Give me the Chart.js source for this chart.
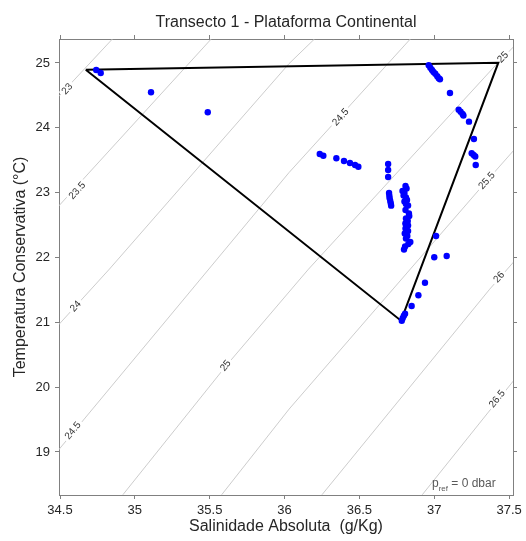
<!DOCTYPE html>
<html>
<head>
<meta charset="utf-8">
<title>Transecto 1 - Plataforma Continental</title>
<script src="https://cdn.jsdelivr.net/npm/chart.js@4"></script>
<style>
  html, body { margin: 0; padding: 0; background: #fff; }
  #wrap { width: 526px; height: 541px; }
</style>
</head>
<body>
<div id="wrap"><canvas id="tsChart" width="526" height="541"></canvas></div>
<script>
// marcas dos eixos
const xTicks = [34.5, 35, 35.5, 36, 36.5, 37, 37.5];
const yTicks = [19, 20, 21, 22, 23, 24, 25];

// estações: salinidade absoluta (g/Kg) e temperatura conservativa (°C)
const stationS = [
    34.742, 34.772, 35.108, 35.487,
    36.963, 36.974, 36.985, 36.995, 37.007, 37.020, 37.030, 37.038,
    37.105, 37.163, 37.176, 37.189, 37.195, 37.232, 37.265,
    37.250, 37.263, 37.274, 37.277,
    36.235, 36.259, 36.346, 36.397, 36.437, 36.471, 36.493,
    36.692, 36.692, 36.692,
    36.698, 36.700, 36.702, 36.706, 36.710, 36.712,
    36.808, 36.815, 36.788, 36.801, 36.795, 36.811, 36.818, 36.801, 36.811,
    36.825, 36.808, 36.831, 36.833, 36.811, 36.823, 36.807, 36.825, 36.808,
    36.825, 36.803, 36.820, 36.811, 36.840, 36.827, 36.805, 36.798,
    37.012, 37.000, 37.083, 36.938, 36.894, 36.849,
    36.805, 36.797, 36.789, 36.783
];
const stationT = [
    24.892, 24.846, 24.548, 24.240,
    24.965, 24.926, 24.892, 24.861, 24.833, 24.796, 24.766, 24.749,
    24.537, 24.280, 24.249, 24.213, 24.190, 24.095, 23.828,
    23.609, 23.581, 23.558, 23.427,
    23.596, 23.570, 23.530, 23.488, 23.457, 23.427, 23.400,
    23.442, 23.350, 23.242,
    22.995, 22.953, 22.913, 22.871, 22.833, 22.799,
    23.103, 23.064, 23.026, 22.995, 22.956, 22.925, 22.887, 22.864, 22.825,
    22.802, 22.733, 22.679, 22.640, 22.601, 22.563, 22.524, 22.493, 22.447,
    22.409, 22.370, 22.331, 22.293, 22.239, 22.208, 22.170, 22.123,
    22.332, 22.003, 22.023, 21.611, 21.417, 21.252,
    21.133, 21.101, 21.062, 21.025
];

// triângulo de mistura
const triS = [34.672, 37.428, 36.778, 34.672];
const triT = [24.897, 25.005, 21.025, 24.897];

// isopicnais sigma0 ([SA, CT])
const sig23   = [[34.49, 24.48], [34.85, 25.37]];
const sig23_5 = [[34.49, 22.79], [35.51, 25.37]];
const sig24   = [[34.49, 20.96], [34.83, 21.82], [36.03, 24.99], [36.20, 25.37]];
const sig24_5 = [[34.49, 19.03], [36.03, 23.31], [36.84, 25.37]];
const sig25   = [[34.92, 18.34], [35.61, 20.33], [36.16, 21.82], [37.42, 24.99], [37.53, 25.25]];
const sig25_5 = [[35.58, 18.34], [36.03, 19.66], [37.35, 23.18], [37.53, 23.65]];
const sig26   = [[36.25, 18.34], [37.37, 21.51], [37.53, 21.93]];
const sig26_5 = [[36.92, 18.34], [37.53, 20.10]];

const isoLevels = ['23', '23.5', '24', '24.5', '25', '25.5', '26', '26.5'];
const isoLines = [sig23, sig23_5, sig24, sig24_5, sig25, sig25_5, sig26, sig26_5];

// rótulos das isopicnais (índice da linha e posição)
const labelLevel = [0, 1, 2, 3, 3, 4, 4, 5, 6, 7];
const labelS = [34.549, 34.616, 34.605, 34.587, 36.375, 35.607, 37.459, 37.352, 37.433, 37.421];
const labelT = [24.599, 23.030, 21.247, 19.328, 24.162, 20.331, 25.088, 23.184, 21.694, 19.817];

const AXIS_GRAY = '#808080';
const TEXT_DARK = '#262626';

Chart.defaults.font.family = '"Liberation Sans", Arial, Helvetica, sans-serif';

// rótulos nas isopicnais + texto p_ref
const isoLabels = {
    id: 'isoLabels',
    afterDatasetDraw(chart, args) {
        if (args.index !== 2) return; // depois da última isopicnal desenhada
        const { ctx, chartArea } = chart;
        const x = chart.scales.x, y = chart.scales.y;
        ctx.save();
        ctx.beginPath();
        ctx.rect(chartArea.left, chartArea.top, chartArea.right - chartArea.left, chartArea.bottom - chartArea.top);
        ctx.clip();
        ctx.font = '10px "Liberation Sans", Arial, sans-serif';
        ctx.textAlign = 'center';
        ctx.textBaseline = 'middle';
        labelLevel.forEach((li, i) => {
            const line = isoLines[li];
            const s = labelS[i];
            let k = 0;
            while (k < line.length - 2 && line[k + 1][0] < s) k++;
            const ax = x.getPixelForValue(line[k][0]), ay = y.getPixelForValue(line[k][1]);
            const bx = x.getPixelForValue(line[k + 1][0]), by = y.getPixelForValue(line[k + 1][1]);
            const ang = Math.atan2(by - ay, bx - ax);
            const px = x.getPixelForValue(s), py = y.getPixelForValue(labelT[i]);
            const txt = isoLevels[li];
            const w = ctx.measureText(txt).width;
            ctx.save();
            ctx.translate(px, py);
            ctx.rotate(ang);
            ctx.fillStyle = '#ffffff';
            ctx.fillRect(-w / 2 - 2.5, -4, w + 5, 8);
            ctx.fillStyle = '#333333';
            ctx.fillText(txt, 0, 0);
            ctx.restore();
        });
        ctx.restore();
    },
    afterDraw(chart) {
        const { ctx, chartArea } = chart;
        const bx = chartArea.right - 81;
        const by = chartArea.bottom - 8;
        ctx.save();
        ctx.fillStyle = '#595959';
        ctx.textAlign = 'left';
        ctx.textBaseline = 'alphabetic';
        ctx.font = '12px "Liberation Sans", Arial, sans-serif';
        ctx.fillText('p', bx, by);
        const pw = ctx.measureText('p').width;
        ctx.font = '8px "Liberation Sans", Arial, sans-serif';
        ctx.fillText('ref', bx + pw, by + 3.5);
        const rw = ctx.measureText('ref').width;
        ctx.font = '12px "Liberation Sans", Arial, sans-serif';
        ctx.fillText(' = 0 dbar', bx + pw + rw, by);
        ctx.restore();
    }
};

const xRange = { min: 34.4933, max: 37.526 };
const yRange = { min: 18.336, max: 25.370 };

new Chart(document.getElementById('tsChart'), {
    type: 'scatter',
    data: {
        datasets: [
            {
                label: 'Estações',
                data: stationS.map((s, i) => ({ x: s, y: stationT[i] })),
                showLine: false,
                pointRadius: 3.2,
                pointBackgroundColor: '#0000ff',
                pointBorderWidth: 0
            },
            {
                label: 'Triângulo de mistura',
                data: triS.map((s, i) => ({ x: s, y: triT[i] })),
                showLine: true,
                borderColor: '#000000',
                borderWidth: 2,
                pointRadius: 0,
                fill: false
            },
            ...isoLines.map((line, i) => ({
                label: 'sigma0 ' + isoLevels[i],
                data: line.map(p => ({ x: p[0], y: p[1] })),
                showLine: true,
                borderColor: '#c6c6c6',
                borderWidth: 0.9,
                pointRadius: 0,
                fill: false
            }))
        ]
    },
    options: {
        responsive: false,
        animation: false,
        devicePixelRatio: 1,
        layout: { padding: { left: 0, right: 13, top: 0, bottom: 0 } },
        plugins: {
            legend: { display: false },
            tooltip: { enabled: false },
            title: {
                display: true,
                text: 'Transecto 1 - Plataforma Continental',
                fullSize: false,
                color: TEXT_DARK,
                font: { size: 16, weight: 'normal' },
                padding: { top: 13, bottom: 6.8 }
            }
        },
        scales: {
            x: {
                type: 'linear',
                position: 'bottom',
                ...xRange,
                afterBuildTicks: s => { s.ticks = xTicks.map(v => ({ value: v })); },
                afterFit: s => { s.height = 46; },
                ticks: { color: TEXT_DARK, font: { size: 13 }, padding: 4, autoSkip: false, maxRotation: 0, callback: v => String(v) },
                grid: { drawOnChartArea: false, tickLength: 4, color: AXIS_GRAY },
                border: { color: AXIS_GRAY },
                title: {
                    display: true,
                    text: 'Salinidade Absoluta  (g/Kg)',
                    color: TEXT_DARK,
                    font: { size: 16 },
                    padding: { top: 0, bottom: 5 }
                }
            },
            x2: {
                type: 'linear',
                position: 'top',
                ...xRange,
                afterBuildTicks: s => { s.ticks = xTicks.map(v => ({ value: v })); },
                afterFit: s => { s.height = 0; },
                ticks: { display: false },
                grid: { drawOnChartArea: false, tickLength: 4, color: AXIS_GRAY },
                border: { color: AXIS_GRAY }
            },
            y: {
                type: 'linear',
                position: 'left',
                ...yRange,
                afterBuildTicks: s => { s.ticks = yTicks.map(v => ({ value: v })); },
                afterFit: s => { s.width = 59; },
                ticks: { color: TEXT_DARK, font: { size: 13 }, padding: 5, autoSkip: false, callback: v => String(v) },
                grid: { drawOnChartArea: false, tickLength: 4, color: AXIS_GRAY },
                border: { color: AXIS_GRAY },
                title: {
                    display: true,
                    text: 'Temperatura Conservativa (°C)',
                    color: TEXT_DARK,
                    font: { size: 16 },
                    padding: { top: 11.4, bottom: 0 }
                }
            },
            y2: {
                type: 'linear',
                position: 'right',
                ...yRange,
                afterBuildTicks: s => { s.ticks = yTicks.map(v => ({ value: v })); },
                afterFit: s => { s.width = 0; },
                ticks: { display: false },
                grid: { drawOnChartArea: false, tickLength: 4, color: AXIS_GRAY },
                border: { color: AXIS_GRAY }
            }
        }
    },
    plugins: [isoLabels]
});
</script>
</body>
</html>
